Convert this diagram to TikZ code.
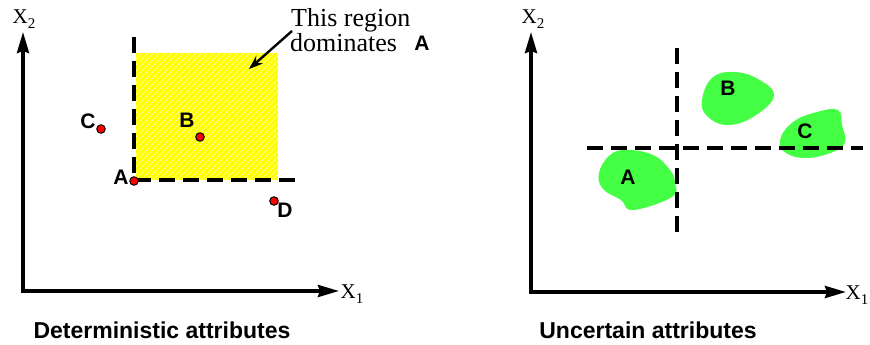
\documentclass[tikz,border=0pt]{standalone}
\usepackage{fontspec}
\setmainfont{Liberation Serif}
\newfontfamily\labfont{Liberation Sans}
\usetikzlibrary{arrows.meta,patterns.meta}
\definecolor{blobgreen}{HTML}{44FF44}
\definecolor{hatchyellow}{HTML}{FFFF00}
\begin{document}
\begin{tikzpicture}[x=1pt,y=-1pt,
 axis/.style={line width=3.4pt, {Stealth[length=21pt,width=12pt,inset=2pt]}-{Stealth[length=21pt,width=12pt,inset=2pt]}},
 dline/.style={line width=3.4pt, dash pattern=on 16pt off 8pt},
 lbl/.style={font=\labfont\bfseries\fontsize{21}{21}\selectfont, inner sep=0pt},
 axl/.style={font=\fontsize{21}{21}\selectfont, inner sep=0pt},
 captxt/.style={font=\labfont\bfseries\fontsize{23}{23}\selectfont, inner sep=0pt},
 note/.style={font=\fontsize{26}{26}\selectfont, inner sep=0pt, anchor=base west},
 dot/.style={circle, fill=red, draw=black, line width=1pt, minimum size=8.5pt, inner sep=0pt},
 blob/.style={fill=blobgreen, draw=none}]
\useasboundingbox (0,0) rectangle (870,345);

% ---------- left panel ----------
\fill[hatchyellow] (136,53) rectangle (278,180);
\fill[pattern={Lines[angle=45,distance=4pt,line width=0.6pt]}, pattern color=white] (136,53) rectangle (278,180);

\coordinate (LY) at (23,32);
\coordinate (LO) at (23,291);
\coordinate (LX) at (339,291);
\draw[axis] (LY) -- (LO) -- (LX);
\node[axl] (lx2) at (24,19) {X\raisebox{-5pt}{\fontsize{15}{15}\selectfont 2}};
\node[axl] (lx1) at (352,294) {X\raisebox{-5pt}{\fontsize{15}{15}\selectfont 1}};

\coordinate (DV) at (134,37);
\coordinate (DC) at (134,180);
\coordinate (DH) at (300,180);
\draw[dline] (DV) -- (DC) -- (DH);

\node[dot] (pA) at (134,181) {};
\node[dot] (pB) at (200,137) {};
\node[dot] (pC) at (101,129) {};
\node[dot] (pD) at (274,201) {};
\node[lbl] (lA) at (121,177) {A};
\node[lbl] (lB) at (187,120) {B};
\node[lbl] (lC) at (88,121) {C};
\node[lbl] (lD) at (285,210) {D};

\node[note] (t1) at (291,27) {This region};
\node[note] (t2) at (290,52) {dominates};
\node[lbl] (tA) at (422,43) {A};
\coordinate (arrE) at (249,69);
\draw[line width=2.4pt, -{Stealth[length=14pt,width=10pt]}] (292,31) -- (arrE);

\node[captxt] (cL) at (162,330) {Deterministic attributes};

% ---------- right panel ----------
\fill[blob] plot[smooth cycle, tension=0.7] coordinates {(599,173) (610,155) (627,150) (653,155) (670,170) (675,183) (672,197) (633,210) (621,200) (603,189)};
\fill[blob] plot[smooth cycle, tension=0.7] coordinates {(702,100) (712,78) (733,72) (758,79) (774,96) (753,117) (727,125) (707,116)};
\fill[blob] plot[smooth cycle, tension=0.7] coordinates {(780,140) (793,122) (817,112) (838,110) (842,125) (845,142) (833,152) (807,158) (786,153)};

\coordinate (RY) at (531,32);
\coordinate (RO) at (531,292);
\coordinate (RX) at (846,292);
\draw[axis] (RY) -- (RO) -- (RX);
\node[axl] (rx2) at (533,19) {X\raisebox{-5pt}{\fontsize{15}{15}\selectfont 2}};
\node[axl] (rx1) at (857,295) {X\raisebox{-5pt}{\fontsize{15}{15}\selectfont 1}};

\coordinate (RVt) at (677,48);
\coordinate (RVb) at (677,236);
\coordinate (RHl) at (587,148);
\coordinate (RHr) at (863,148);
\draw[dline] (RVt) -- (RVb);
\draw[dline] (RHl) -- (RHr);

\node[lbl] (bA) at (628,177) {A};
\node[lbl] (bB) at (728,88) {B};
\node[lbl] (bC) at (805,131) {C};

\node[captxt] (cR) at (648,330) {Uncertain attributes};
\end{tikzpicture}
\end{document}
